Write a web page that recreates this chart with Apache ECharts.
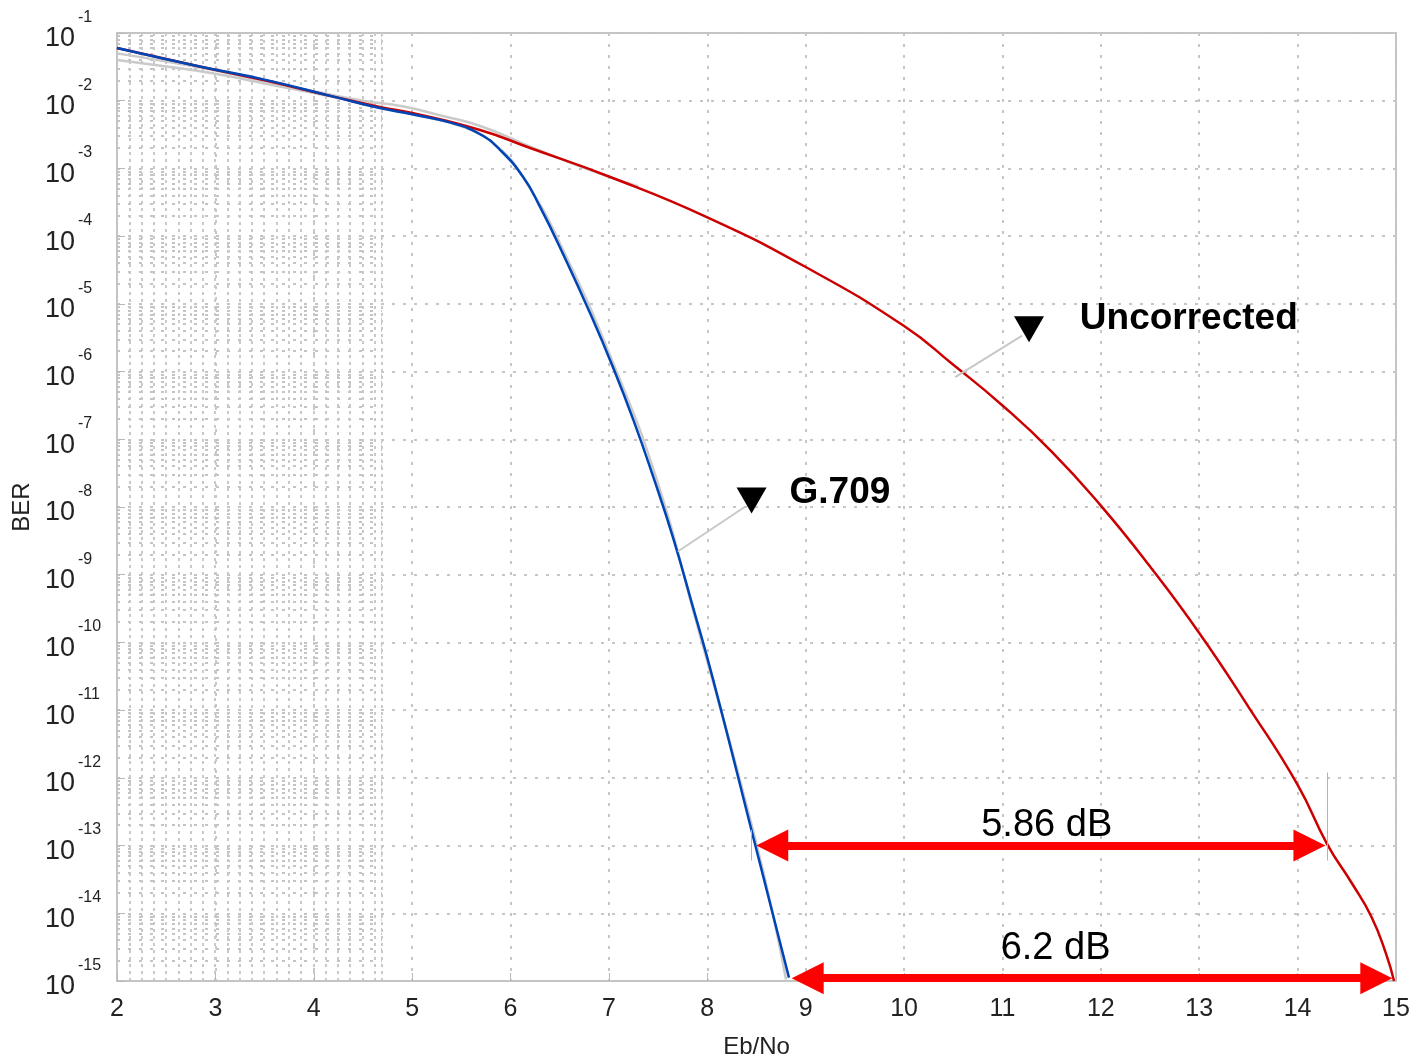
<!DOCTYPE html>
<html>
<head>
<meta charset="utf-8">
<title>BER vs Eb/No</title>
<script src="https://cdn.jsdelivr.net/npm/echarts@6/dist/echarts.min.js"></script>
<style>
  html, body { margin: 0; padding: 0; background: #fff; }
  #chart { width: 1414px; height: 1060px; }
</style>
</head>
<body>
<div id="chart"></div>
<script>
// Uncorrected curve (red)
var uncEbNo = [2.0, 2.84, 3.5, 4.2, 4.67, 5.0, 5.69, 6.2, 7.0, 8.0, 9.0, 10.0, 10.5, 11.0, 11.5, 12.0, 12.5, 13.0, 13.5, 14.0, 14.3, 14.55, 14.75, 14.9, 14.98];
var uncBer  = [6.0e-2, 3.2e-2, 2.0e-2, 1.15e-2, 8.1e-3, 6.6e-3, 3.7e-3, 2.0e-3, 7.6e-4, 1.9e-4, 3.5e-5, 4.7e-6, 1.26e-6, 3.16e-7, 6.6e-8, 1.05e-8, 1.32e-9, 1.38e-10, 1.12e-11, 7.9e-13, 1.05e-13, 2.8e-14, 8.9e-15, 2.5e-15, 1.0e-15];

// G.709 curve (blue)
var g709EbNo = [2.0, 2.84, 3.5, 4.2, 4.67, 5.0, 5.4, 5.69, 5.89, 6.13, 6.3, 6.53, 6.81, 7.04, 7.25, 7.45, 7.65, 7.85, 8.06, 8.48, 8.83];
var g709Ber  = [6.0e-2, 3.2e-2, 2.05e-2, 1.15e-2, 7.8e-3, 6.3e-3, 4.7e-3, 3.2e-3, 1.9e-3, 7.4e-4, 2.7e-4, 5.6e-5, 7.2e-6, 1.17e-6, 1.9e-7, 2.8e-8, 3.6e-9, 3.5e-10, 2.8e-11, 1.12e-13, 1.12e-15];

// faint grey traces under the curves
var rawAEbNo = [2.0, 2.5, 3.0, 3.5, 4.0, 4.5, 4.9, 5.3, 5.7, 6.2, 6.8, 7.3];
var rawABer  = [5.0e-2, 3.8e-2, 2.8e-2, 1.95e-2, 1.38e-2, 1.0e-2, 8.3e-3, 6.0e-3, 4.2e-3, 2.1e-3, 9.5e-4, 5.4e-4];
var rawBEbNo = [2.0, 2.5, 3.0, 3.5, 4.0, 4.5, 5.0, 5.5, 5.85, 6.15, 6.55, 7.05, 7.5, 7.85, 8.5, 8.8];
var rawBBer  = [4.0e-2, 3.2e-2, 2.5e-2, 1.8e-2, 1.3e-2, 9.1e-3, 6.3e-3, 4.2e-3, 2.2e-3, 6.6e-4, 5.6e-5, 1.26e-6, 2.2e-8, 3.2e-10, 1.05e-13, 1.05e-15];

// gain markers
var gain1 = { label: '5.86 dB', from: 8.66, to: 14.12, ber: 1.0e-13, textX: 11.45, textBer: 2.0e-13 };
var gain2 = { label: '6.2 dB',  from: 9.02, to: 14.80, ber: 1.1e-15, textX: 11.54, textBer: 3.0e-15 };

function pairs(xs, ys) {
  return xs.map(function (x, i) { return [x, ys[i]]; });
}

// minor log grid for the dense left block (in exponent units)
var minorExp = [];
for (var e = -15; e < -1; e++) {
  for (var k = 1; k <= 9; k++) minorExp.push(e + Math.log10(k));
}
minorExp.push(-1);

var font = 'Liberation Sans, Arial, sans-serif';
var gridColor = '#c6c6c6';
var leader = { color: '#c8c8c8', width: 2, type: 'solid' };
var tick = { color: '#b4b4b4', width: 1, type: 'solid' };

var chart = echarts.init(document.getElementById('chart'));

chart.setOption({
  backgroundColor: '#fff',
  animation: false,
  textStyle: { fontFamily: font },
  grid: [
    { left: 117, right: 18, top: 33, bottom: 79, outerBoundsMode: 'none', show: true, borderColor: '#c4c4c4', borderWidth: 2 },
    { left: 117, top: 33, bottom: 79, width: 265, outerBoundsMode: 'none' }
  ],
  xAxis: [{
    type: 'value', min: 2, max: 15, interval: 1,
    name: 'Eb/No', nameLocation: 'middle', nameGap: 54,
    nameTextStyle: { fontSize: 24, color: '#222', fontFamily: font },
    axisLine: { lineStyle: { color: '#c4c4c4', width: 2 } },
    axisTick: { inside: true, length: 8, lineStyle: { color: '#b8b8b8' } },
    axisLabel: { fontSize: 25, color: '#222', margin: 16, fontFamily: font },
    splitLine: { show: true, lineStyle: { color: gridColor, type: [3, 8], width: 2 } }
  }, {
    type: 'value', gridIndex: 1, min: 2, max: 4.7, interval: 0.125,
    axisLine: { show: false }, axisTick: { show: false }, axisLabel: { show: false },
    splitLine: { show: true, lineStyle: { color: '#c9c9c9', type: [3, 4], width: 2 } }
  }],
  yAxis: [{
    type: 'log', logBase: 10, min: 1e-15, max: 1e-1, interval: 1,
    name: 'BER', nameLocation: 'middle', nameGap: 77,
    nameTextStyle: { fontSize: 24, color: '#222', fontFamily: font },
    axisLine: { lineStyle: { color: '#c4c4c4', width: 2 } },
    axisTick: { inside: true, length: 8, lineStyle: { color: '#b8b8b8' } },
    axisLabel: {
      align: 'left', margin: 72, padding: [0, 0, 4, 0],
      formatter: function (v) {
        return '{b|10}{e|' + Math.round(Math.log10(v)) + '}';
      },
      rich: {
        b: { fontSize: 27, color: '#222', lineHeight: 43, verticalAlign: 'bottom', fontFamily: font },
        e: { fontSize: 16, color: '#222', lineHeight: 43, verticalAlign: 'top', padding: [0, 0, 0, 3], fontFamily: font }
      }
    },
    splitLine: { show: true, lineStyle: { color: gridColor, type: [3, 8], width: 2 } }
  }, {
    type: 'value', gridIndex: 1, min: -15, max: -1,
    axisLine: { show: false }, axisLabel: { show: false },
    axisTick: { show: false, customValues: minorExp },
    splitLine: { show: true, lineStyle: { color: '#c4c4c4', type: [3, 8], width: 2 } }
  }],
  series: [{
    name: 'raw A', type: 'line', data: pairs(rawAEbNo, rawABer),
    smooth: 0.5, symbol: 'none', silent: true, z: 1,
    lineStyle: { color: '#cacaca', width: 2.5 }
  }, {
    name: 'raw B', type: 'line', data: pairs(rawBEbNo, rawBBer),
    smooth: 0.5, symbol: 'none', silent: true, z: 1,
    lineStyle: { color: '#cacaca', width: 2.5 }
  }, {
    name: 'Uncorrected', type: 'line', data: pairs(uncEbNo, uncBer),
    smooth: 0.5, symbol: 'none', z: 3,
    lineStyle: { color: '#cc0000', width: 2.5 }
  }, {
    name: 'G.709', type: 'line', data: pairs(g709EbNo, g709Ber),
    smooth: 0.5, symbol: 'none', z: 4,
    lineStyle: { color: '#0045b5', width: 2.5 }
  }, {
    name: 'notes', type: 'line', data: [], z: 5,
    markLine: {
      silent: true, animation: false,
      label: { show: false },
      data: [
        [{ coord: [10.52, 8.3e-7], symbol: 'none', lineStyle: leader }, { coord: [11.2, 3.4e-6], symbol: 'none' }],
        [{ coord: [7.70, 2.2e-9], symbol: 'none', lineStyle: leader }, { coord: [8.38, 1.0e-8], symbol: 'none' }],
        [{ coord: [14.3, 1.2e-12], symbol: 'none', lineStyle: tick }, { coord: [14.3, 6.0e-14], symbol: 'none' }],
        [{ coord: [8.45, 1.7e-13], symbol: 'none', lineStyle: tick }, { coord: [8.45, 6.0e-14], symbol: 'none' }],
        [{ coord: [gain1.from, gain1.ber], symbol: 'triangle', symbolSize: 32, lineStyle: { color: '#ff0000', width: 8, type: 'solid' } },
         { coord: [gain1.to, gain1.ber], symbol: 'triangle', symbolSize: 32 }],
        [{ coord: [gain2.from, gain2.ber], symbol: 'triangle', symbolSize: 32, lineStyle: { color: '#ff0000', width: 8, type: 'solid' } },
         { coord: [gain2.to, gain2.ber], symbol: 'triangle', symbolSize: 32 }]
      ]
    },
    markPoint: {
      silent: true, animation: false, symbol: 'circle', symbolSize: 0,
      label: { show: true, position: 'inside', color: '#000', fontFamily: font },
      data: [
        { coord: [12.894, 5.96e-6], label: { formatter: 'Uncorrected', fontSize: 37, fontWeight: 'bold' } },
        { coord: [9.348, 1.6e-8], label: { formatter: 'G.709', fontSize: 37, fontWeight: 'bold' } },
        { coord: [gain1.textX, gain1.textBer], label: { formatter: gain1.label, fontSize: 38 } },
        { coord: [gain2.textX, gain2.textBer], label: { formatter: gain2.label, fontSize: 38 } },
        { coord: [11.27, 4.2e-6], symbol: 'triangle', symbolSize: [30, 26], symbolRotate: 180,
          itemStyle: { color: '#000' }, label: { show: false } },
        { coord: [8.45, 1.25e-8], symbol: 'triangle', symbolSize: [30, 26], symbolRotate: 180,
          itemStyle: { color: '#000' }, label: { show: false } }
      ]
    }
  }]
});
</script>
</body>
</html>
